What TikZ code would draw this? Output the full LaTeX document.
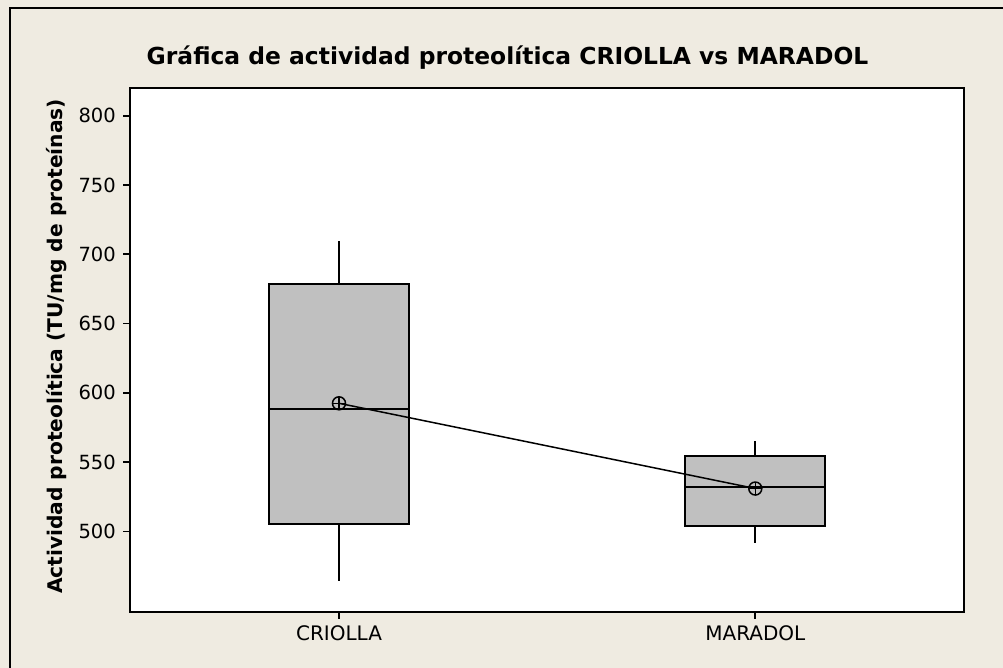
\documentclass[tikz,border=0pt]{standalone}
\usepackage{fontspec}
\setmainfont{DejaVu Sans}
\usepackage{tikz}
\usetikzlibrary{calc}
\definecolor{panel}{HTML}{EFEBE1}
\definecolor{boxgray}{HTML}{C0C0C0}

\begin{document}
\begin{tikzpicture}[x=1pt,y=1pt]
    % `frame' is the outer panel, `plotarea' the white data region.
    % `iqrbox' is the interquartile box, `meanmark' the circled cross.
    \tikzset{
      frame/.style={draw=black,line width=1.8pt},
      plotarea/.style={draw=black,fill=white,line width=1.8pt},
      iqrbox/.style={draw=black,fill=boxgray,line width=2pt},
      whisker/.style={draw=black,line width=2pt},
      medline/.style={draw=black,line width=1.6pt},
      meanmark/.style={draw=black,line width=1.5pt,circle,minimum size=13pt,inner sep=0pt,
        path picture={\draw[line width=1.5pt] (path picture bounding box.north) -- (path picture bounding box.south)
          (path picture bounding box.west) -- (path picture bounding box.east);}},
      ticklbl/.style={font=\fontsize{19.5}{22}\selectfont,anchor=east,inner sep=0pt},
      catlbl/.style={font=\fontsize{20}{22}\selectfont,anchor=north,inner sep=0pt},
    }
    \useasboundingbox[fill=panel] (0,0) rectangle (1003,668);
    % Outer frame (only left and top edges fall inside the picture).
    \draw[frame] (10,-5) -- (10,660) -- (1010,660);
    % Title.
    \node[font=\fontsize{23.4}{26}\selectfont\bfseries,anchor=base,inner sep=0pt] (title) at (507.5,603)
      {Gráfica de actividad proteolítica CRIOLLA vs MARADOL};
    % Plot area.
    \draw[plotarea] (130,56) rectangle (964,580);
    % Y axis label.
    \node[font=\fontsize{20.2}{22}\selectfont\bfseries,rotate=90,anchor=base,inner sep=0pt] (ylabel) at (62,321.5)
      {Actividad proteolítica (TU/mg de proteínas)};
    %
    \begin{scope}[y=1.386pt,yshift=-556.5pt]
      % Y ticks and labels.
      \foreach \v in {500,550,...,800} {
        \draw[line width=1.8pt] (123,\v) -- (130,\v);
        \node[ticklbl] (tick\v) at (116,\v) {\v};
      }
      % CRIOLLA.
      \draw[whisker] (339,505.6) -- (339,464.5) (339,678.6) -- (339,709.4);
      \draw[iqrbox] (269.3,505.6) rectangle (409,678.6);
      \draw[medline] (269.3,588.2) -- (409,588.2);
      \node[meanmark] (meanC) at (339,592.5) {};
      % MARADOL.
      \draw[whisker] (755.3,504.2) -- (755.3,492) (755.3,554.2) -- (755.3,565.3);
      \draw[iqrbox] (685.3,504.2) rectangle (825,554.2);
      \draw[medline] (685.3,531.9) -- (825,531.9);
      \node[meanmark] (meanM) at (755.3,531) {};
    \end{scope}
    % Line connecting the means.
    \draw[line width=1.5pt] (meanC.center) -- (meanM.center);
    % X ticks and category labels.
    \draw[line width=1.8pt] (339,56) -- (339,49) (755.3,56) -- (755.3,49);
    \node[catlbl] (catC) at (339,43) {CRIOLLA};
    \node[catlbl] (catM) at (755.3,43) {MARADOL};
\end{tikzpicture}
\end{document}
